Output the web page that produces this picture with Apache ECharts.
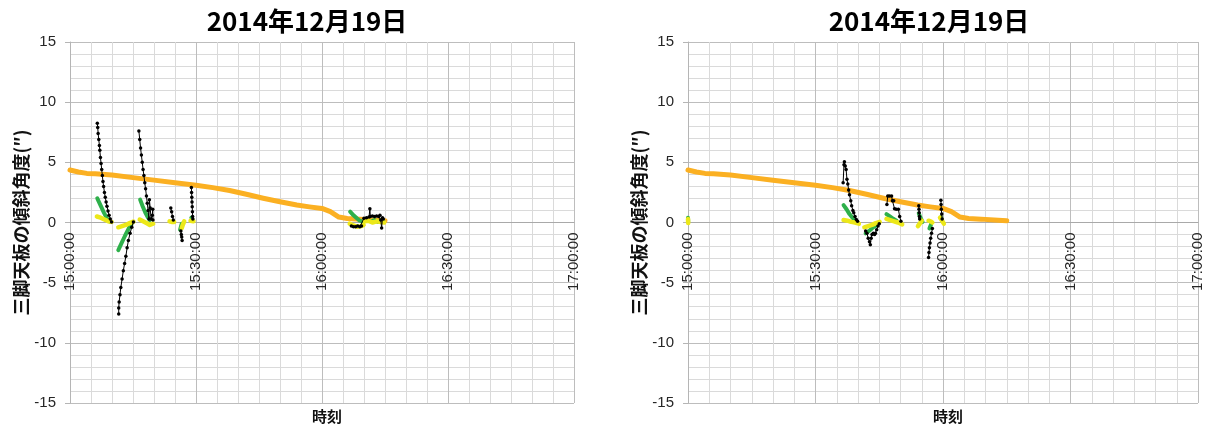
<!DOCTYPE html>
<html>
<head>
<meta charset="utf-8">
<script src="https://cdn.jsdelivr.net/npm/echarts@6/dist/echarts.min.js"></script>
<style>
  html, body { margin: 0; padding: 0; background: #fff; }
  #chart { width: 1208px; height: 426px; }
</style>
</head>
<body>
<div id="chart"></div>
<script>
// Tilt of the tripod top plate, 2014-12-19, two measurement panels.
// x values are minutes after 15:00:00, y values are tilt in arc-seconds.
const chartTitle = '2014年12月19日';
const yAxisTitle = '三脚天板の傾斜角度(″)';
const xAxisTitle = '時刻';
const xTickLabels = ['15:00:00', '15:30:00', '16:00:00', '16:30:00', '17:00:00'];

// Slowly drifting reference trace (drawn in both panels)
const orangeTrend = [
  [0, 4.36], [2, 4.2], [4, 4.08], [6, 4.05], [10, 3.94], [15, 3.73], [20, 3.52],
  [25, 3.31], [30, 3.1], [34, 2.9], [38, 2.66], [42, 2.35], [46, 2.02], [50, 1.72],
  [54, 1.45], [57, 1.3], [60, 1.17], [62, 0.9], [64, 0.45], [66, 0.33], [69, 0.28],
  [72, 0.2], [75, 0.14]
];

// Left panel
const leftBlack = [
  [[6.5, 8.25], [6.6, 7.9], [6.7, 7.4], [6.85, 6.9], [7.0, 6.4], [7.1, 6.0], [7.25, 5.4],
   [7.4, 4.9], [7.55, 4.4], [7.7, 3.9], [7.85, 3.4], [8.0, 3.0], [8.2, 2.5], [8.4, 2.1],
   [8.6, 1.7], [8.8, 1.35], [9.05, 0.95], [9.3, 0.6], [9.6, 0.3], [9.9, 0.05]],
  [[11.6, -7.6], [11.6, -7.1], [11.7, -6.6], [11.9, -6.0], [12.1, -5.4], [12.4, -4.7],
   [12.7, -4.0], [13.0, -3.4], [13.3, -2.8], [13.6, -2.1], [13.9, -1.5], [14.3, -0.9],
   [14.7, -0.4], [15.1, 0.05]],
  [[16.4, 7.6], [16.6, 6.9], [16.8, 6.2], [17.0, 5.6], [17.2, 5.0], [17.4, 4.4], [17.6, 3.9],
   [17.8, 3.3], [18.0, 2.8], [18.2, 2.2], [18.4, 1.6], [18.6, 1.0], [18.8, 0.3],
   [18.9, 1.9], [19.1, 1.2], [19.3, 0.3], [19.6, 0.6], [19.7, 1.1], [19.75, 0.2]],
  [[24.0, 1.2], [24.2, 0.9], [24.4, 0.5], [24.6, 0.2]],
  [[26.4, -0.7], [26.5, -1.0], [26.6, -1.2], [26.7, -1.5]],
  [[28.9, 2.9], [28.95, 2.5], [29.0, 2.1], [29.05, 1.7], [29.1, 1.3], [29.15, 0.9],
   [29.2, 0.5], [29.25, 0.3]],
  [[67.0, -0.3], [67.5, -0.35], [68.0, -0.35], [68.5, -0.3], [69.0, -0.35], [69.4, -0.3],
   [70.0, 0.35], [70.6, 0.4], [71.2, 0.45], [71.4, 1.15], [71.5, 0.5], [72.0, 0.55],
   [72.5, 0.5], [73.0, 0.55], [73.5, 0.5], [73.8, 0.6], [74.0, 0.2], [74.2, -0.45],
   [74.4, 0.4], [74.6, 0.3]]
];
const leftGreen = [
  [[6.5, 2.0], [7.3, 1.4], [8.1, 0.8], [8.8, 0.35], [9.5, 0.07]],
  [[11.5, -2.3], [12.3, -1.7], [13.1, -1.1], [13.9, -0.55], [14.7, -0.07]],
  [[16.7, 1.9], [17.3, 1.35], [17.9, 0.85], [18.5, 0.45], [19.0, 0.2]],
  [[26.2, -0.6], [26.4, -0.35], [26.6, -0.1]],
  [[28.9, 0.4], [29.1, 0.3]],
  [[66.7, 0.9], [67.5, 0.6], [68.3, 0.35], [69.0, 0.15], [69.8, 0.07]],
  [[71.7, 0.1], [72.5, 0.2], [73.3, 0.05], [74.0, 0.15], [74.6, 0.1]]
];
const leftYellow = [
  [[6.4, 0.5], [7.3, 0.4], [8.2, 0.25], [9.1, 0.1], [9.9, 0.05]],
  [[11.5, -0.4], [12.4, -0.3], [13.3, -0.2], [14.2, -0.05], [15.1, 0.07]],
  [[16.6, 0.25], [17.4, 0.1], [18.2, -0.05], [19.0, -0.2], [19.8, -0.1]],
  [[23.7, 0.1], [24.2, 0.05], [24.8, 0.05]],
  [[26.6, -0.45], [26.9, -0.15], [27.2, 0.1]],
  [[28.7, 0.15], [29.1, 0.15], [29.4, 0.1]],
  [[66.6, -0.1], [67.5, -0.25], [68.4, -0.35], [69.3, -0.3], [69.9, -0.2]],
  [[70.2, 0.1], [71.0, 0.15], [72.0, 0.0], [73.0, 0.1], [74.0, 0.05], [74.8, 0.0]]
];

// Right panel
const rightBlack = [
  [[36.5, 3.3], [36.7, 4.8], [36.8, 5.05], [37.0, 4.7], [37.2, 4.4], [37.4, 3.6], [37.6, 3.2],
   [37.8, 2.7], [38.0, 2.3], [38.3, 1.8], [38.5, 1.4], [38.8, 1.0], [39.0, 0.8], [39.3, 0.5],
   [39.6, 0.25], [39.9, 0.1]],
  [[41.8, -0.7], [42.1, -0.9], [42.4, -1.3], [42.7, -1.6], [42.9, -1.85], [43.1, -1.3],
   [43.3, -1.0], [43.6, -0.9], [43.9, -1.0], [44.1, -0.9], [44.4, -0.6], [44.7, -0.3],
   [45.0, -0.1]],
  [[46.8, 1.5], [47.0, 2.2], [47.4, 2.2], [47.9, 2.2], [48.1, 1.8], [48.4, 1.8], [48.6, 1.15],
   [49.0, 1.1], [49.5, 1.1], [49.8, 0.5], [50.1, 0.1]],
  [[54.3, 1.4], [54.35, 1.1], [54.4, 0.8], [54.45, 0.5], [54.5, 0.3]],
  [[56.6, -2.9], [56.7, -2.5], [56.8, -2.1], [56.95, -1.7], [57.1, -1.3], [57.3, -0.9],
   [57.5, -0.5]],
  [[59.5, 1.85], [59.55, 1.5], [59.6, 1.1], [59.7, 0.7], [59.8, 0.3]]
];
const rightGreen = [
  [[0.0, 0.4], [0.05, 0.1]],
  [[36.6, 1.45], [37.3, 1.1], [38.0, 0.7], [38.7, 0.4], [39.3, 0.2]],
  [[41.8, -0.9], [42.6, -0.7], [43.4, -0.45], [44.2, -0.25]],
  [[46.7, 0.7], [47.5, 0.5], [48.3, 0.3], [49.1, 0.15]],
  [[54.3, 0.75], [54.7, 0.4], [55.2, 0.05]],
  [[56.8, -0.5], [57.2, -0.15]],
  [[59.5, 0.45], [59.8, 0.15]]
];
const rightYellow = [
  [[0.0, 0.3], [0.05, -0.05]],
  [[36.6, 0.2], [37.5, 0.15], [38.4, 0.05], [39.3, 0.0], [40.2, -0.1]],
  [[41.5, -0.4], [42.4, -0.3], [43.3, -0.2], [44.2, -0.05], [45.1, 0.05]],
  [[46.7, 0.3], [47.6, 0.2], [48.5, 0.1], [49.4, 0.0], [50.4, -0.15]],
  [[54.1, -0.3], [54.6, -0.05], [55.0, 0.15]],
  [[56.6, 0.15], [57.1, 0.1], [57.5, 0.0]],
  [[59.3, 0.4], [59.7, 0.2], [60.2, -0.1]]
];

const COLORS = { orange: '#fbb022', green: '#2eb04b', yellow: '#ece819', black: '#000000' };
const CJK = '"Noto Sans CJK JP", sans-serif';
const LATIN = '"Liberation Sans", Arial, sans-serif';
const PLOT_TOP = 42, PLOT_HEIGHT = 361, Y_MIN = -15, Y_MAX = 15;

const panels = [
  { left: 70, width: 504, titleX: 302, black: leftBlack, green: leftGreen, yellow: leftYellow },
  { left: 688, width: 510, titleX: 924, black: rightBlack, green: rightGreen, yellow: rightYellow }
];

function thickLine(data, idx, color, width) {
  return {
    type: 'line', data: data, xAxisIndex: idx, yAxisIndex: idx,
    showSymbol: false, symbol: 'none', silent: true,
    lineStyle: { color: color, width: width, cap: 'round', join: 'round' }
  };
}
function dottedLine(data, idx) {
  return {
    type: 'line', data: data, xAxisIndex: idx, yAxisIndex: idx,
    symbol: 'circle', symbolSize: 3.5, showSymbol: true, silent: true,
    itemStyle: { color: COLORS.black },
    lineStyle: { color: COLORS.black, width: 1 }
  };
}

// The time axis crosses the value axis at 0: lift it from the bottom edge by
// the distance between the bottom edge and the zero level.
const zeroLift = -PLOT_HEIGHT * (0 - Y_MIN) / (Y_MAX - Y_MIN);

const grids = [], xAxes = [], yAxes = [], titles = [], series = [];
panels.forEach((p, i) => {
  grids.push({
    left: p.left, top: PLOT_TOP, width: p.width, height: PLOT_HEIGHT,
    containLabel: false, outerBoundsMode: 'none'
  });
  xAxes.push({
    type: 'value', gridIndex: i, min: 0, max: 120, interval: 30,
    position: 'bottom', offset: zeroLift,
    axisLine: { show: true, onZero: false, lineStyle: { color: '#a9a9a9', width: 1 } },
    axisTick: { show: false },
    axisLabel: {
      rotate: 90, margin: 10, fontFamily: LATIN, fontSize: 15, color: '#262626',
      formatter: v => xTickLabels[Math.round(v / 30)]
    },
    splitLine: { show: true, lineStyle: { color: '#bdbdbd', width: 1 } },
    minorTick: { show: false, splitNumber: 6 },
    minorSplitLine: { show: true, lineStyle: { color: '#dadada', width: 1 } }
  });
  yAxes.push({
    type: 'value', gridIndex: i, min: Y_MIN, max: Y_MAX, interval: 5,
    name: yAxisTitle, nameLocation: 'middle', nameGap: 38, nameRotate: 90,
    nameTextStyle: { fontFamily: CJK, fontSize: 18, fontWeight: 'bold', color: '#111' },
    axisLine: { show: true, onZero: false, lineStyle: { color: '#b5b5b5', width: 1 } },
    axisTick: { show: true, length: 5, lineStyle: { color: '#b5b5b5' } },
    axisLabel: { fontFamily: LATIN, fontSize: 15, color: '#262626', margin: 14 },
    splitLine: { show: true, lineStyle: { color: '#bdbdbd', width: 1 } },
    minorTick: { show: false, splitNumber: 5 },
    minorSplitLine: { show: true, lineStyle: { color: '#dadada', width: 1 } }
  });
  titles.push({
    text: chartTitle, left: p.titleX, top: 3, textAlign: 'center',
    textStyle: { fontFamily: CJK, fontSize: 26, fontWeight: 'bold', color: '#000' }
  });
  titles.push({
    text: xAxisTitle, left: p.left + p.width / 2, top: 404, textAlign: 'center',
    textStyle: { fontFamily: CJK, fontSize: 15, fontWeight: 'bold', color: '#111' }
  });

  series.push(thickLine(orangeTrend, i, COLORS.orange, 5));
  p.green.forEach(seg => series.push(thickLine(seg, i, COLORS.green, 4)));
  p.yellow.forEach(seg => series.push(thickLine(seg, i, COLORS.yellow, 4.5)));
  p.black.forEach(seg => series.push(dottedLine(seg, i)));
});

const chart = echarts.init(document.getElementById('chart'), null, { renderer: 'canvas' });
chart.setOption({
  animation: false,
  backgroundColor: '#ffffff',
  title: titles,
  grid: grids,
  xAxis: xAxes,
  yAxis: yAxes,
  series: series
});
</script>
</body>
</html>
